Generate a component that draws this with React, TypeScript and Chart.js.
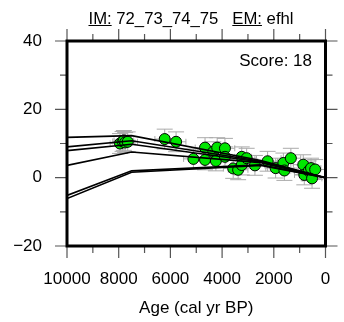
import React, { useEffect, useRef } from 'react';
import { Chart, registerables } from 'chart.js';

Chart.register(...registerables);

// ---- data ----
const modelAges = [10000, 7500, 2500, 0];
const model1 = [11.8, 12.3, 5.0, 0.0];
const model2 = [9.0, 10.8, 4.8, 0.0];
const model3 = [7.9, 9.8, 4.6, 0.0];
const model4 = [3.6, 7.5, 4.4, 0.0];
const model5 = [-5.2, 2.0, 3.8, 0.0];
const model6 = [-6.1, 1.6, 3.6, 0.0];
const models = [model1, model2, model3, model4, model5, model6];

const pointAges = [
  7950, 7850, 7800, 7750, 7650,
  6220, 5780,
  5110, 4660, 4660, 4340, 4240, 4190, 3890, 3890,
  3570, 3380, 3240, 3240, 3050, 2730,
  2240, 1930, 1630, 1590, 1340,
  860, 820, 650, 560, 520, 400,
];
const pointValues = [
  10.0, 10.6, 10.9, 10.3, 10.5,
  11.3, 10.5,
  5.5, 8.8, 5.2, 7.6, 4.9, 8.8, 8.6, 6.1,
  2.7, 2.3, 6.1, 3.7, 5.7, 3.6,
  4.8, 2.8, 4.3, 2.1, 5.7,
  3.8, 0.8, 2.0, 2.8, -0.2, 2.4,
];
const ageErr = [
  380, 380, 380, 380, 380,
  380, 380,
  380, 380, 380, 380, 380, 380, 380, 380,
  380, 380, 380, 380, 380, 380,
  380, 380, 380, 380, 380,
  380, 380, 380, 380, 380, 380,
];
const valueErr = [
  2.9, 2.9, 2.9, 2.9, 2.9,
  2.9, 2.9,
  2.9, 2.9, 2.9, 2.9, 2.9, 2.9, 2.9, 2.9,
  2.9, 2.9, 2.9, 2.9, 2.9, 2.9,
  2.9, 2.9, 2.9, 2.9, 2.9,
  2.9, 2.9, 2.9, 2.9, 2.9, 2.9,
];

const xMajorTicks = [10000, 8000, 6000, 4000, 2000, 0];
const xMinorTicks = [9000, 7000, 5000, 3000, 1000];
const yMajorTicks = [40, 20, 0, -20];
const yMinorTicks = [30, 10, -10];

const titleIM = 'IM:';
const titleIMValue = ' 72_73_74_75   ';
const titleEM = 'EM:';
const titleEMValue = ' efhl';
const scoreText = 'Score: 18';
const xAxisTitle = 'Age (cal yr BP)';

const FONT = '"Liberation Sans", Arial, Helvetica, sans-serif';

const decor = {
  id: 'decor',
  beforeDatasetsDraw(chart: any) {
    const { ctx, scales } = chart;
    const x = scales.x, y = scales.y;
    const area = chart.chartArea;
    ctx.save();
    ctx.beginPath();
    ctx.rect(area.left, area.top, area.right - area.left, area.bottom - area.top);
    ctx.clip();
    ctx.strokeStyle = '#aaaaaa';
    ctx.lineWidth = 1;
    const cap = 8;
    pointAges.forEach((a, i) => {
      const v = pointValues[i];
      const px = x.getPixelForValue(a);
      const py = y.getPixelForValue(v);
      const xl = x.getPixelForValue(a + ageErr[i]);
      const xr = x.getPixelForValue(a - ageErr[i]);
      const yt = y.getPixelForValue(v + valueErr[i]);
      const yb = y.getPixelForValue(v - valueErr[i]);
      ctx.beginPath();
      ctx.moveTo(xl, py); ctx.lineTo(xr, py);
      ctx.moveTo(xl, py - 3); ctx.lineTo(xl, py + 3);
      ctx.moveTo(xr, py - 3); ctx.lineTo(xr, py + 3);
      ctx.moveTo(px, yt); ctx.lineTo(px, yb);
      ctx.moveTo(px - cap, yt); ctx.lineTo(px + cap, yt);
      ctx.moveTo(px - cap, yb); ctx.lineTo(px + cap, yb);
      ctx.stroke();
    });
    ctx.restore();
  },
  afterDraw(chart: any) {
    const { ctx, scales } = chart;
    const x = scales.x, y = scales.y;
    const a = chart.chartArea;
    ctx.save();
    // ticks
    ctx.strokeStyle = '#555';
    ctx.lineWidth = 1.2;
    const tick = (vals: number[], len: number) => {
      vals.forEach((v) => {
        const px = x.getPixelForValue(v);
        ctx.beginPath();
        ctx.moveTo(px, a.bottom); ctx.lineTo(px, a.bottom + len);
        ctx.moveTo(px, a.top); ctx.lineTo(px, a.top - len);
        ctx.stroke();
      });
    };
    const ytick = (vals: number[], len: number) => {
      vals.forEach((v) => {
        const py = y.getPixelForValue(v);
        ctx.beginPath();
        ctx.moveTo(a.left, py); ctx.lineTo(a.left - len, py);
        ctx.moveTo(a.right, py); ctx.lineTo(a.right + len, py);
        ctx.stroke();
      });
    };
    tick(xMajorTicks, 12);
    tick(xMinorTicks, 7);
    ytick(yMajorTicks, 12);
    ytick(yMinorTicks, 7);
    // frame
    ctx.strokeStyle = '#000';
    ctx.lineWidth = 3;
    ctx.strokeRect(a.left, a.top, a.right - a.left, a.bottom - a.top);

    // texts
    ctx.fillStyle = '#000';
    ctx.font = `16.7px ${FONT}`;
    ctx.textBaseline = 'alphabetic';
    ctx.textAlign = 'left';
    const parts = [
      { t: titleIM, u: true },
      { t: titleIMValue, u: false },
      { t: titleEM, u: true },
      { t: titleEMValue, u: false },
    ];
    const total = parts.reduce((s, p) => s + ctx.measureText(p.t).width, 0);
    let cx = 191 - total / 2;
    const base = 23.5;
    ctx.lineWidth = 1;
    ctx.strokeStyle = '#000';
    parts.forEach((p) => {
      const w = ctx.measureText(p.t).width;
      ctx.fillText(p.t, cx, base);
      if (p.u) {
        ctx.beginPath();
        ctx.moveTo(cx, base + 2); ctx.lineTo(cx + w, base + 2);
        ctx.stroke();
      }
      cx += w;
    });
    ctx.font = `17px ${FONT}`;
    ctx.textAlign = 'right';
    ctx.fillText(scoreText, 312, 66);
    ctx.textAlign = 'center';
    ctx.fillText(xAxisTitle, (a.left + a.right) / 2, 313);
    ctx.restore();
  },
};

export default function App() {
  const ref = useRef<HTMLCanvasElement>(null);
  useEffect(() => {
    if (!ref.current) return;
    const lineSets = models.map((m, k) => ({
      type: 'line' as const,
      label: `model ${k + 1}`,
      data: modelAges.map((a, i) => ({ x: a, y: m[i] })),
      borderColor: '#000',
      borderWidth: 1.6,
      pointRadius: 0,
      fill: false,
      tension: 0,
      order: 1,
    }));
    const chart = new Chart(ref.current, {
      type: 'scatter',
      data: {
        datasets: [
          ...lineSets,
          {
            type: 'scatter' as const,
            label: 'data',
            data: pointAges.map((a, i) => ({ x: a, y: pointValues[i] })),
            backgroundColor: '#00e600',
            borderColor: '#000',
            borderWidth: 1,
            pointRadius: 5.5,
            order: 2,
          },
        ] as any,
      },
      options: {
        animation: false,
        responsive: false,
        maintainAspectRatio: false,
        layout: { padding: { top: 41, right: 18.5, left: 0, bottom: 0 } },
        plugins: { legend: { display: false }, tooltip: { enabled: false }, title: { display: false } },
        scales: {
          x: {
            type: 'linear',
            reverse: true,
            min: 0,
            max: 10000,
            position: 'bottom',
            grid: { display: false, drawTicks: false, tickLength: 0 },
            border: { display: false },
            ticks: {
              stepSize: 2000,
              autoSkip: false,
              maxRotation: 0,
              padding: 23,
              color: '#000',
              font: { family: FONT, size: 17 },
              callback: (v: any) => String(v),
            },
            afterFit: (s: any) => {
              s.height = 76;
              s.paddingLeft = 0;
              s.paddingRight = 0;
              s.paddingTop = 0;
              s.paddingBottom = 0;
            },
          },
          y: {
            type: 'linear',
            min: -20,
            max: 40,
            grid: { display: false, drawTicks: false, tickLength: 0 },
            border: { display: false },
            ticks: {
              stepSize: 20,
              padding: 25,
              color: '#000',
              font: { family: FONT, size: 17 },
              callback: (v: any) => (v < 0 ? '\u2212' + Math.abs(v) : String(v)),
            },
            afterFit: (s: any) => {
              s.width = 67;
              s.paddingTop = 0;
              s.paddingBottom = 0;
              s.paddingLeft = 0;
              s.paddingRight = 0;
            },
          },
        },
      },
      plugins: [decor],
    });
    return () => chart.destroy();
  }, []);
  return (
    <div style={{ position: 'absolute', left: 0, top: 0, width: 344, height: 322 }}>
      <canvas ref={ref} width={344} height={322} style={{ display: 'block' }} />
    </div>
  );
}
